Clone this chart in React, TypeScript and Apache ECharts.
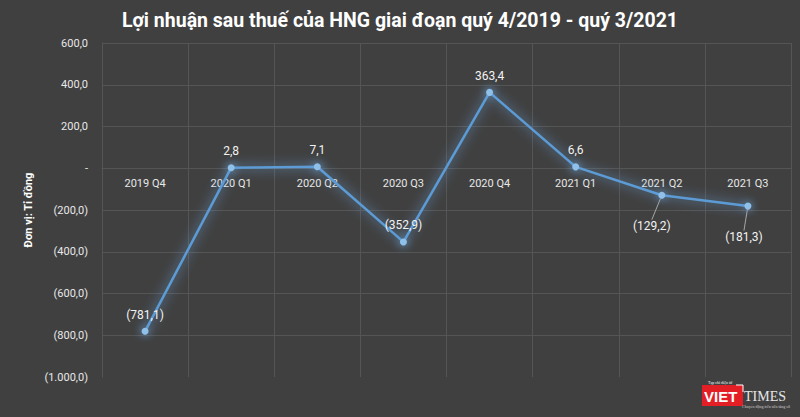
import React, { useEffect, useRef } from "react";
import * as echarts from "echarts";

const categories = ["2019 Q4", "2020 Q1", "2020 Q2", "2020 Q3", "2020 Q4", "2021 Q1", "2021 Q2", "2021 Q3"];
const profit = [-781.1, 2.8, 7.1, -352.9, 363.4, 6.6, -129.2, -181.3];
const yTicks = { min: -1000, max: 600, interval: 200 };

const FONT = "'Liberation Sans Narrow', 'Roboto', 'Noto Sans', sans-serif";

const GRID_TOP = 43;
const GRID_BOTTOM = 40;
const H = 417;

function fmtNum(v: number, digits: number) {
  const abs = Math.abs(v);
  const [i, d] = abs.toFixed(digits).split(".");
  const intPart = i.replace(/\B(?=(\d{3})+(?!\d))/g, ".");
  const s = digits > 0 ? intPart + "," + d : intPart;
  return v < 0 ? "(" + s + ")" : s;
}

export default function App() {
  const ref = useRef<HTMLDivElement>(null);
  useEffect(() => {
    const chart = echarts.init(ref.current!, undefined, { renderer: "svg" });
    const plotH = H - GRID_TOP - GRID_BOTTOM;
    const zeroFromBottom = ((0 - yTicks.min) / (yTicks.max - yTicks.min)) * plotH;
    chart.setOption({
      animation: false,
      backgroundColor: "#404040",
      title: {
        text: "Lợi nhuận sau thuế của HNG giai đoạn quý 4/2019 - quý 3/2021",
        left: "center",
        top: 5,
        textStyle: { color: "#ffffff", fontSize: 19.5, fontWeight: "bold", fontFamily: FONT },
      },
      grid: { left: 102, right: 9, top: GRID_TOP, bottom: GRID_BOTTOM },
      xAxis: {
        type: "category",
        data: categories,
        boundaryGap: true,
        position: "bottom",
        offset: -zeroFromBottom,
        axisLine: { show: true, onZero: false, lineStyle: { color: "#555555", width: 1 } },
        axisTick: { show: false },
        axisLabel: { color: "#e8e8e8", fontSize: 11, fontFamily: FONT, margin: 10 },
        splitLine: { show: true, lineStyle: { color: "#555555", width: 1 } },
      },
      yAxis: {
        type: "value",
        min: yTicks.min,
        max: yTicks.max,
        interval: yTicks.interval,
        name: "Đơn vị: Tỉ đồng",
        nameLocation: "middle",
        nameRotate: 90,
        nameGap: 62,
        nameTextStyle: { color: "#ffffff", fontSize: 11, fontWeight: "bold", fontFamily: FONT },
        axisLine: { show: true, lineStyle: { color: "#555555" } },
        axisTick: { show: false },
        axisLabel: {
          color: "#e8e8e8",
          fontSize: 11,
          fontFamily: FONT,
          margin: 14,
          formatter: (v: number) => (v === 0 ? "-" : fmtNum(v, 1)),
        },
        splitLine: { show: true, showMinLine: false, lineStyle: { color: "#555555", width: 1 } },
      },
      series: [
        {
          type: "line",
          data: profit.map((v, i) => ({
            value: v,
            label: {
              position: i === 6 || i === 7 ? "bottom" : "top",
              distance: 7,
            },
            labelLine: { show: i === 6 || i === 7, lineStyle: { color: "#a6a6a6", width: 1 } },
          })),
          symbol: "circle",
          symbolSize: 7,
          lineStyle: { color: "#5b9bd5", width: 2.5, shadowColor: "rgba(110,170,230,1)", shadowBlur: 12 },
          itemStyle: { color: "#8fc0ea", shadowColor: "rgba(110,170,230,1)", shadowBlur: 8 },
          label: {
            show: true,
            color: "#f2f2f2",
            fontSize: 12,
            fontFamily: FONT,
            formatter: (p: any) => fmtNum(p.value, 1),
          },
          labelLayout: (p: any) =>
            p.dataIndex === 6 ? { dx: -10, dy: 14 } : p.dataIndex === 7 ? { dx: -4, dy: 14 } : {},
        },
      ],
      graphic: [
        { type: "rect", x: 702, y: 385, shape: { x: 0, y: 0, width: 41, height: 21 }, style: { fill: "#e31e24" } },
        { type: "polyline", shape: { points: [[736, 385], [743, 385], [743, 392]] }, style: { stroke: "#ffffff", lineWidth: 1, fill: "none" } },
        { type: "text", x: 708, y: 380, style: { text: "Tạp chí điện tử", fill: "#ffffff", fontSize: 4, fontFamily: "serif" } },
        { type: "text", x: 704, y: 389, style: { text: "VIET", fill: "#ffffff", fontSize: 15, fontWeight: "bold", fontFamily: "'Liberation Sans', sans-serif" } },
        { type: "text", x: 744, y: 389, style: { text: "TIMES", fill: "#e6e6e6", fontSize: 14, fontFamily: "'Liberation Serif', serif" } },
        { type: "text", x: 742, y: 404, style: { text: "Chuyển động trên nền tảng số", fill: "#d0d0d0", fontSize: 4, fontFamily: "serif" } },
      ],
    });
    return () => chart.dispose();
  }, []);
  return <div ref={ref} style={{ width: 800, height: 417, position: "absolute", left: 0, top: 0 }} />;
}
